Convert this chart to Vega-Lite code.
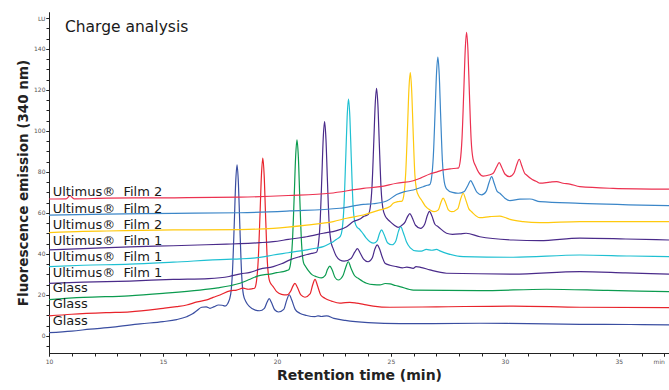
{
"$schema":"https://vega.github.io/schema/vega-lite/v6.json",
"width":620,"height":341,
"autosize":{"type":"none"},
"padding":{"left":49,"top":12,"right":0,"bottom":37},
"background":"white",
"config":{"view":{"stroke":null},"font":"DejaVu Sans"},
"resolve":{"axis":{"x":"independent","y":"independent"}},
"layer":[
{"data":{"values":[
{"k":1,"t":10,"v":1.6},{"k":1,"t":11,"v":2.4},{"k":1,"t":11.8,"v":3.3},{"k":1,"t":12.8,"v":4.3},{"k":1,"t":14,"v":5.9},{"k":1,"t":15,"v":7},{"k":1,"t":15.6,"v":8},{"k":1,"t":16.04,"v":9.4},{"k":1,"t":16.3,"v":10.8},{"k":1,"t":16.48,"v":12.3},{"k":1,"t":16.7,"v":14},{"k":1,"t":16.9,"v":14.2},{"k":1,"t":17.06,"v":13.5},{"k":1,"t":17.25,"v":14.3},{"k":1,"t":17.43,"v":15.1},{"k":1,"t":17.6,"v":15},{"k":1,"t":17.72,"v":14.6},{"k":1,"t":17.85,"v":16},{"k":1,"t":17.97,"v":20.3},{"k":1,"t":18.05,"v":31.6},{"k":1,"t":18.13,"v":55.5},{"k":1,"t":18.19,"v":74.8},{"k":1,"t":18.25,"v":83.4},{"k":1,"t":18.31,"v":74.4},{"k":1,"t":18.37,"v":54.5},{"k":1,"t":18.45,"v":30.3},{"k":1,"t":18.53,"v":20},{"k":1,"t":18.64,"v":16.7},{"k":1,"t":18.8,"v":14.3},{"k":1,"t":19.05,"v":12.6},{"k":1,"t":19.24,"v":12.3},{"k":1,"t":19.45,"v":13.5},{"k":1,"t":19.56,"v":16.3},{"k":1,"t":19.66,"v":18.2},{"k":1,"t":19.76,"v":16.3},{"k":1,"t":19.9,"v":12.8},{"k":1,"t":20.07,"v":11.7},{"k":1,"t":20.3,"v":13},{"k":1,"t":20.43,"v":17.5},{"k":1,"t":20.54,"v":20.1},{"k":1,"t":20.65,"v":17.5},{"k":1,"t":20.8,"v":13},{"k":1,"t":21,"v":11.1},{"k":1,"t":21.3,"v":10},{"k":1,"t":21.67,"v":9.4},{"k":1,"t":21.8,"v":9.8},{"k":1,"t":21.95,"v":9.5},{"k":1,"t":22.18,"v":9.8},{"k":1,"t":22.5,"v":8.6},{"k":1,"t":23,"v":7.6},{"k":1,"t":24,"v":6.5},{"k":1,"t":25.4,"v":6},{"k":1,"t":28.9,"v":6.2},{"k":1,"t":31,"v":6},{"k":1,"t":33.29,"v":5.7},{"k":1,"t":35.5,"v":5.6},{"k":1,"t":37.2,"v":5.4},
{"k":2,"t":10,"v":9.8},{"k":2,"t":11,"v":10.6},{"k":2,"t":12.5,"v":11.4},{"k":2,"t":13.55,"v":11.8},{"k":2,"t":15.01,"v":13.5},{"k":2,"t":15.6,"v":14.3},{"k":2,"t":16.04,"v":15.1},{"k":2,"t":16.5,"v":16.6},{"k":2,"t":16.92,"v":17.6},{"k":2,"t":17.2,"v":18.8},{"k":2,"t":17.5,"v":20},{"k":2,"t":17.94,"v":22},{"k":2,"t":18.23,"v":22.4},{"k":2,"t":18.52,"v":23.3},{"k":2,"t":18.74,"v":22.8},{"k":2,"t":18.9,"v":23},{"k":2,"t":19.02,"v":23.3},{"k":2,"t":19.1,"v":26.5},{"k":2,"t":19.18,"v":37.3},{"k":2,"t":19.26,"v":60.1},{"k":2,"t":19.32,"v":78.5},{"k":2,"t":19.38,"v":86.8},{"k":2,"t":19.44,"v":78.2},{"k":2,"t":19.5,"v":59.2},{"k":2,"t":19.58,"v":36.1},{"k":2,"t":19.66,"v":27.5},{"k":2,"t":19.75,"v":25.2},{"k":2,"t":19.84,"v":24},{"k":2,"t":19.99,"v":21.6},{"k":2,"t":20.2,"v":20.3},{"k":2,"t":20.43,"v":20},{"k":2,"t":20.6,"v":21.8},{"k":2,"t":20.7,"v":24.3},{"k":2,"t":20.79,"v":25.7},{"k":2,"t":20.9,"v":23.6},{"k":2,"t":21.05,"v":20},{"k":2,"t":21.23,"v":18.9},{"k":2,"t":21.45,"v":20.5},{"k":2,"t":21.57,"v":25},{"k":2,"t":21.67,"v":27.6},{"k":2,"t":21.78,"v":24.5},{"k":2,"t":21.92,"v":20},{"k":2,"t":22.1,"v":18.4},{"k":2,"t":22.4,"v":17},{"k":2,"t":22.76,"v":16},{"k":2,"t":23,"v":16.3},{"k":2,"t":23.2,"v":16.4},{"k":2,"t":23.5,"v":16},{"k":2,"t":23.8,"v":15.4},{"k":2,"t":24.22,"v":14.6},{"k":2,"t":24.96,"v":14},{"k":2,"t":27,"v":14.2},{"k":2,"t":30.36,"v":14.6},{"k":2,"t":33.29,"v":14},{"k":2,"t":37.2,"v":13.8},
{"k":3,"t":10,"v":17.7},{"k":3,"t":11.5,"v":18.8},{"k":3,"t":13.5,"v":19.6},{"k":3,"t":15,"v":20.8},{"k":3,"t":16.62,"v":22.4},{"k":3,"t":17.4,"v":23.5},{"k":3,"t":17.94,"v":24.5},{"k":3,"t":18.38,"v":25.7},{"k":3,"t":18.82,"v":27.7},{"k":3,"t":19.18,"v":29.3},{"k":3,"t":19.4,"v":29.8},{"k":3,"t":19.7,"v":30.2},{"k":3,"t":19.99,"v":30.9},{"k":3,"t":20.28,"v":31.4},{"k":3,"t":20.45,"v":32},{"k":3,"t":20.52,"v":32.3},{"k":3,"t":20.6,"v":35.5},{"k":3,"t":20.68,"v":46.2},{"k":3,"t":20.76,"v":69},{"k":3,"t":20.82,"v":87.4},{"k":3,"t":20.88,"v":95.6},{"k":3,"t":20.94,"v":87.1},{"k":3,"t":21,"v":68},{"k":3,"t":21.08,"v":45.1},{"k":3,"t":21.16,"v":36},{"k":3,"t":21.25,"v":34},{"k":3,"t":21.37,"v":32},{"k":3,"t":21.55,"v":29.8},{"k":3,"t":21.74,"v":28.9},{"k":3,"t":21.95,"v":28.3},{"k":3,"t":22.12,"v":29.5},{"k":3,"t":22.22,"v":32.5},{"k":3,"t":22.32,"v":34.1},{"k":3,"t":22.43,"v":32},{"k":3,"t":22.55,"v":28.5},{"k":3,"t":22.69,"v":27.3},{"k":3,"t":22.9,"v":29.5},{"k":3,"t":23.02,"v":33.5},{"k":3,"t":23.13,"v":36.2},{"k":3,"t":23.25,"v":33},{"k":3,"t":23.4,"v":29.5},{"k":3,"t":23.57,"v":28.1},{"k":3,"t":23.93,"v":25.7},{"k":3,"t":24.25,"v":25},{"k":3,"t":24.52,"v":24.9},{"k":3,"t":24.75,"v":25.6},{"k":3,"t":24.96,"v":25.4},{"k":3,"t":25.2,"v":24.6},{"k":3,"t":25.39,"v":24.1},{"k":3,"t":25.98,"v":22.4},{"k":3,"t":28.9,"v":22.1},{"k":3,"t":31.83,"v":22.8},{"k":3,"t":34.5,"v":22.2},{"k":3,"t":37.2,"v":21.6},
{"k":4,"t":10,"v":25.7},{"k":4,"t":11.5,"v":26.3},{"k":4,"t":13.55,"v":26.8},{"k":4,"t":15.45,"v":27.6},{"k":4,"t":17,"v":28},{"k":4,"t":17.9,"v":29},{"k":4,"t":18.4,"v":30.3},{"k":4,"t":18.82,"v":31},{"k":4,"t":19.25,"v":32.6},{"k":4,"t":19.84,"v":33.8},{"k":4,"t":20.2,"v":35.2},{"k":4,"t":20.57,"v":37.1},{"k":4,"t":21,"v":38.7},{"k":4,"t":21.52,"v":40.3},{"k":4,"t":21.73,"v":40.8},{"k":4,"t":21.81,"v":44},{"k":4,"t":21.89,"v":54.6},{"k":4,"t":21.97,"v":77.6},{"k":4,"t":22.03,"v":96.2},{"k":4,"t":22.09,"v":104.5},{"k":4,"t":22.15,"v":96.1},{"k":4,"t":22.21,"v":77.4},{"k":4,"t":22.29,"v":54.8},{"k":4,"t":22.37,"v":46},{"k":4,"t":22.47,"v":42.5},{"k":4,"t":22.6,"v":39},{"k":4,"t":22.76,"v":37.1},{"k":4,"t":22.95,"v":36.5},{"k":4,"t":23.25,"v":37.8},{"k":4,"t":23.42,"v":41},{"k":4,"t":23.53,"v":42.6},{"k":4,"t":23.65,"v":40.5},{"k":4,"t":23.8,"v":37.5},{"k":4,"t":24,"v":36.2},{"k":4,"t":24.18,"v":38},{"k":4,"t":24.3,"v":42.5},{"k":4,"t":24.4,"v":44.4},{"k":4,"t":24.5,"v":42.5},{"k":4,"t":24.62,"v":38.5},{"k":4,"t":24.74,"v":35.5},{"k":4,"t":24.96,"v":34.5},{"k":4,"t":25.25,"v":33.8},{"k":4,"t":25.5,"v":33.2},{"k":4,"t":25.7,"v":33.6},{"k":4,"t":25.98,"v":33},{"k":4,"t":26.1,"v":33.8},{"k":4,"t":26.3,"v":33.5},{"k":4,"t":26.71,"v":32.2},{"k":4,"t":27.44,"v":30.6},{"k":4,"t":30.36,"v":30.2},{"k":4,"t":33.29,"v":31.4},{"k":4,"t":35.3,"v":30.8},{"k":4,"t":37.2,"v":30.2},
{"k":5,"t":10,"v":33.8},{"k":5,"t":11.5,"v":34.5},{"k":5,"t":13.55,"v":35},{"k":5,"t":15.45,"v":36},{"k":5,"t":17.79,"v":37.4},{"k":5,"t":18.38,"v":37.6},{"k":5,"t":19.25,"v":38.3},{"k":5,"t":19.84,"v":39.5},{"k":5,"t":20.5,"v":40.6},{"k":5,"t":21.3,"v":42},{"k":5,"t":21.7,"v":42.8},{"k":5,"t":22.03,"v":43.6},{"k":5,"t":22.3,"v":45},{"k":5,"t":22.47,"v":46},{"k":5,"t":22.62,"v":47.2},{"k":5,"t":22.78,"v":48.6},{"k":5,"t":22.86,"v":51.9},{"k":5,"t":22.94,"v":63.2},{"k":5,"t":23.02,"v":87.4},{"k":5,"t":23.08,"v":106.8},{"k":5,"t":23.14,"v":115.5},{"k":5,"t":23.2,"v":106.7},{"k":5,"t":23.26,"v":87.2},{"k":5,"t":23.34,"v":63.5},{"k":5,"t":23.42,"v":55.5},{"k":5,"t":23.52,"v":53},{"k":5,"t":23.6,"v":52.3},{"k":5,"t":23.71,"v":50.9},{"k":5,"t":23.9,"v":48},{"k":5,"t":24.08,"v":46},{"k":5,"t":24.25,"v":45.3},{"k":5,"t":24.4,"v":46.5},{"k":5,"t":24.5,"v":50},{"k":5,"t":24.59,"v":51.7},{"k":5,"t":24.7,"v":49.5},{"k":5,"t":24.85,"v":45.5},{"k":5,"t":25.05,"v":44.5},{"k":5,"t":25.22,"v":46.5},{"k":5,"t":25.33,"v":51},{"k":5,"t":25.43,"v":53.3},{"k":5,"t":25.54,"v":50.5},{"k":5,"t":25.68,"v":46},{"k":5,"t":25.85,"v":43},{"k":5,"t":26.1,"v":41.5},{"k":5,"t":26.34,"v":41.4},{"k":5,"t":26.55,"v":42.2},{"k":5,"t":26.8,"v":41.8},{"k":5,"t":27,"v":42.2},{"k":5,"t":27.15,"v":41.5},{"k":5,"t":27.44,"v":40.3},{"k":5,"t":28.17,"v":38.7},{"k":5,"t":30.36,"v":38.4},{"k":5,"t":33.29,"v":39.5},{"k":5,"t":35.5,"v":39},{"k":5,"t":37.2,"v":38.7},
{"k":6,"t":10,"v":42},{"k":6,"t":11.5,"v":42.6},{"k":6,"t":13.55,"v":43.5},{"k":6,"t":15.45,"v":44},{"k":6,"t":17.79,"v":44.8},{"k":6,"t":18.38,"v":45},{"k":6,"t":19.25,"v":45.5},{"k":6,"t":19.84,"v":46},{"k":6,"t":20.5,"v":47.1},{"k":6,"t":21.3,"v":48.4},{"k":6,"t":22.03,"v":50.1},{"k":6,"t":22.62,"v":51.4},{"k":6,"t":23.06,"v":53.3},{"k":6,"t":23.35,"v":55.8},{"k":6,"t":23.64,"v":57},{"k":6,"t":23.79,"v":58.2},{"k":6,"t":23.93,"v":58.8},{"k":6,"t":24.01,"v":59.3},{"k":6,"t":24.09,"v":62.4},{"k":6,"t":24.17,"v":72.8},{"k":6,"t":24.25,"v":95},{"k":6,"t":24.31,"v":112.8},{"k":6,"t":24.37,"v":120.8},{"k":6,"t":24.43,"v":112.5},{"k":6,"t":24.49,"v":94},{"k":6,"t":24.57,"v":71.7},{"k":6,"t":24.65,"v":62.1},{"k":6,"t":24.75,"v":58.5},{"k":6,"t":24.85,"v":57},{"k":6,"t":24.96,"v":55.8},{"k":6,"t":25.15,"v":54},{"k":6,"t":25.32,"v":53},{"k":6,"t":25.48,"v":54},{"k":6,"t":25.62,"v":55.5},{"k":6,"t":25.73,"v":58.2},{"k":6,"t":25.83,"v":59.7},{"k":6,"t":25.93,"v":57.8},{"k":6,"t":26.08,"v":54},{"k":6,"t":26.3,"v":52.5},{"k":6,"t":26.48,"v":54.5},{"k":6,"t":26.59,"v":58.5},{"k":6,"t":26.69,"v":60.8},{"k":6,"t":26.8,"v":58.5},{"k":6,"t":26.93,"v":54.5},{"k":6,"t":27.07,"v":53.3},{"k":6,"t":27.44,"v":50.1},{"k":6,"t":27.7,"v":49.6},{"k":6,"t":28.03,"v":49.8},{"k":6,"t":28.3,"v":50.1},{"k":6,"t":28.9,"v":48.4},{"k":6,"t":30.36,"v":46.8},{"k":6,"t":31.54,"v":46.5},{"k":6,"t":33.29,"v":47.7},{"k":6,"t":35.3,"v":47.3},{"k":6,"t":37.2,"v":46.8},
{"k":7,"t":10,"v":50.4},{"k":7,"t":11.5,"v":51},{"k":7,"t":12.53,"v":51.2},{"k":7,"t":15.45,"v":51.7},{"k":7,"t":18.38,"v":51.9},{"k":7,"t":19.84,"v":52.5},{"k":7,"t":21.3,"v":54.1},{"k":7,"t":22.47,"v":55.8},{"k":7,"t":23.06,"v":57.4},{"k":7,"t":23.79,"v":59},{"k":7,"t":24.52,"v":61.5},{"k":7,"t":24.96,"v":63.1},{"k":7,"t":25.1,"v":64.7},{"k":7,"t":25.3,"v":65.5},{"k":7,"t":25.49,"v":65.8},{"k":7,"t":25.57,"v":68.9},{"k":7,"t":25.65,"v":79.6},{"k":7,"t":25.73,"v":102.1},{"k":7,"t":25.79,"v":120.3},{"k":7,"t":25.85,"v":128.4},{"k":7,"t":25.91,"v":120},{"k":7,"t":25.97,"v":101.4},{"k":7,"t":26.05,"v":78.8},{"k":7,"t":26.13,"v":71},{"k":7,"t":26.2,"v":68.8},{"k":7,"t":26.34,"v":66.3},{"k":7,"t":26.5,"v":63.5},{"k":7,"t":26.71,"v":61.5},{"k":7,"t":26.9,"v":60.6},{"k":7,"t":27.08,"v":61.5},{"k":7,"t":27.19,"v":65},{"k":7,"t":27.29,"v":67.2},{"k":7,"t":27.4,"v":65},{"k":7,"t":27.52,"v":61.5},{"k":7,"t":27.66,"v":60.6},{"k":7,"t":27.93,"v":62},{"k":7,"t":28.06,"v":66.8},{"k":7,"t":28.17,"v":69.6},{"k":7,"t":28.28,"v":66.5},{"k":7,"t":28.42,"v":62},{"k":7,"t":28.54,"v":60.6},{"k":7,"t":28.9,"v":57.7},{"k":7,"t":29.34,"v":58.2},{"k":7,"t":29.78,"v":58.5},{"k":7,"t":30,"v":57.8},{"k":7,"t":30.22,"v":56.9},{"k":7,"t":30.8,"v":55.8},{"k":7,"t":31.54,"v":55.3},{"k":7,"t":33.29,"v":55.8},{"k":7,"t":37.2,"v":55.8},
{"k":8,"t":10,"v":58.9},{"k":8,"t":12.53,"v":59.4},{"k":8,"t":15.5,"v":59.8},{"k":8,"t":18.38,"v":60.1},{"k":8,"t":20.57,"v":61},{"k":8,"t":22.76,"v":62.3},{"k":8,"t":23.79,"v":64.2},{"k":8,"t":24.22,"v":64.5},{"k":8,"t":24.81,"v":65.8},{"k":8,"t":25.25,"v":69},{"k":8,"t":25.6,"v":70.4},{"k":8,"t":25.98,"v":71.2},{"k":8,"t":26.42,"v":72.8},{"k":8,"t":26.6,"v":73.5},{"k":8,"t":26.7,"v":73.8},{"k":8,"t":26.78,"v":76.9},{"k":8,"t":26.86,"v":87.5},{"k":8,"t":26.94,"v":109.9},{"k":8,"t":27,"v":127.9},{"k":8,"t":27.06,"v":136},{"k":8,"t":27.12,"v":127.4},{"k":8,"t":27.18,"v":108.3},{"k":8,"t":27.26,"v":85.2},{"k":8,"t":27.34,"v":75.3},{"k":8,"t":27.44,"v":71.8},{"k":8,"t":27.7,"v":70},{"k":8,"t":27.95,"v":69.6},{"k":8,"t":28.22,"v":70.5},{"k":8,"t":28.38,"v":73.5},{"k":8,"t":28.5,"v":75.8},{"k":8,"t":28.62,"v":73.5},{"k":8,"t":28.78,"v":70},{"k":8,"t":28.98,"v":68.8},{"k":8,"t":29.18,"v":70.5},{"k":8,"t":29.31,"v":75},{"k":8,"t":29.42,"v":77.7},{"k":8,"t":29.53,"v":74.5},{"k":8,"t":29.66,"v":70.5},{"k":8,"t":29.78,"v":69.6},{"k":8,"t":30,"v":67.2},{"k":8,"t":30.22,"v":66},{"k":8,"t":30.66,"v":66.7},{"k":8,"t":31.1,"v":66.8},{"k":8,"t":31.54,"v":65.5},{"k":8,"t":33.29,"v":64.7},{"k":8,"t":37.2,"v":63.6},
{"k":9,"t":10,"v":66.8},{"k":9,"t":10.75,"v":66.9},{"k":9,"t":10.92,"v":68.4},{"k":9,"t":11.1,"v":66.9},{"k":9,"t":12.53,"v":67.2},{"k":9,"t":15.5,"v":67.4},{"k":9,"t":18.38,"v":67.7},{"k":9,"t":20.5,"v":68.5},{"k":9,"t":22.32,"v":69.6},{"k":9,"t":23.79,"v":72},{"k":9,"t":24.52,"v":72.8},{"k":9,"t":25.25,"v":74.5},{"k":9,"t":25.98,"v":75.7},{"k":9,"t":26.3,"v":77},{"k":9,"t":26.71,"v":79},{"k":9,"t":27,"v":79.9},{"k":9,"t":27.29,"v":81},{"k":9,"t":27.6,"v":81.5},{"k":9,"t":27.88,"v":81.8},{"k":9,"t":27.96,"v":81.9},{"k":9,"t":28.04,"v":85.2},{"k":9,"t":28.12,"v":96.5},{"k":9,"t":28.2,"v":120.3},{"k":9,"t":28.26,"v":139.5},{"k":9,"t":28.32,"v":148.1},{"k":9,"t":28.38,"v":139.2},{"k":9,"t":28.44,"v":119.5},{"k":9,"t":28.52,"v":95.7},{"k":9,"t":28.6,"v":86.5},{"k":9,"t":28.72,"v":82.8},{"k":9,"t":28.85,"v":79.8},{"k":9,"t":29.05,"v":78},{"k":9,"t":29.3,"v":78.5},{"k":9,"t":29.5,"v":79.5},{"k":9,"t":29.64,"v":82.5},{"k":9,"t":29.75,"v":84.5},{"k":9,"t":29.86,"v":82.3},{"k":9,"t":30,"v":79},{"k":9,"t":30.2,"v":77.7},{"k":9,"t":30.4,"v":79.5},{"k":9,"t":30.52,"v":83.5},{"k":9,"t":30.63,"v":86.2},{"k":9,"t":30.74,"v":83},{"k":9,"t":30.86,"v":79.5},{"k":9,"t":30.95,"v":78.5},{"k":9,"t":31.2,"v":76.3},{"k":9,"t":31.39,"v":75.3},{"k":9,"t":31.54,"v":74.5},{"k":9,"t":31.97,"v":75},{"k":9,"t":32.27,"v":75.3},{"k":9,"t":32.55,"v":74.5},{"k":9,"t":32.85,"v":74.1},{"k":9,"t":33.29,"v":72.8},{"k":9,"t":34.75,"v":72},{"k":9,"t":37.2,"v":71.6}
]},
"mark":{"type":"line","interpolate":"monotone","strokeWidth":1.2,"clip":true},
"encoding":{
"x":{"field":"t","type":"quantitative","scale":{"domain":[10,37.2],"nice":false,"zero":false},
"axis":{"orient":"bottom","title":"Retention time (min)","values":[10,15,20,25,30,35,37],"labelExpr":"datum.value == 37 ? 'min' : datum.label","labelAlign":{"condition":{"test":"datum.value == 37","value":"right"},"value":"center"},"labelFontSize":6,"labelColor":"#555555","labelFont":"DejaVu Sans","labelPadding":2,"labelFlush":false,"labelOverlap":false,"tickSize":3,"tickColor":"#222222","domainColor":"#222222","grid":false,"titleFontSize":14,"titleFont":"DejaVu Sans","titleFontWeight":"bold","titleColor":"#222222","titlePadding":4}},
"y":{"field":"v","type":"quantitative","scale":{"domain":[-8.3,158],"nice":false,"zero":false},
"axis":{"orient":"left","title":"Fluorescence emission (340 nm)","values":[0,20,40,60,80,100,120,140,155],"labelExpr":"datum.value == 155 ? 'LU' : datum.label","labelFontSize":6,"labelColor":"#555555","labelFont":"DejaVu Sans","labelPadding":1,"labelOverlap":false,"tickSize":3,"tickColor":"#222222","domainColor":"#222222","grid":false,"titleFontSize":13.5,"titleFont":"DejaVu Sans","titleFontWeight":"bold","titleColor":"#222222","titlePadding":3}},
"color":{"field":"k","type":"nominal","scale":{"domain":[1,2,3,4,5,6,7,8,9],"range":["#3a4ea1","#e8242c","#0b9b4f","#4a2b8a","#1fc0d2","#4a2b8a","#ffc90e","#3b86c8","#ec3150"]},"legend":null}
}},
{"data":{"values":[
{"label":"Ultimus®\u00a0 Film 2","t":10.16,"v":68.3},
{"label":"Ultimus®\u00a0 Film 2","t":10.16,"v":60.1},
{"label":"Ultimus®\u00a0 Film 2","t":10.16,"v":52.0},
{"label":"Ultimus®\u00a0 Film 1","t":10.16,"v":44.4},
{"label":"Ultimus®\u00a0 Film 1","t":10.16,"v":36.7},
{"label":"Ultimus®\u00a0 Film 1","t":10.16,"v":28.9},
{"label":"Glass","t":10.16,"v":21.3},
{"label":"Glass","t":10.16,"v":13.5},
{"label":"Glass","t":10.16,"v":5.4}
]},
"mark":{"type":"text","align":"left","baseline":"alphabetic","fontSize":13,"font":"DejaVu Sans","color":"#1a1a1a"},
"encoding":{
"x":{"field":"t","type":"quantitative","axis":{"orient":"bottom","title":null,"labels":false,"values":[10,11,12,13,14,15,16,17,18,19,20,21,22,23,24,25,26,27,28,29,30,31,32,33,34,35,36,37],"tickSize":3,"tickColor":"#222222","domainColor":"#222222","grid":false}},
"y":{"field":"v","type":"quantitative","axis":{"orient":"left","title":null,"labels":false,"values":[-5,0,5,10,15,20,25,30,35,40,45,50,55,60,65,70,75,80,85,90,95,100,105,110,115,120,125,130,135,140,145,150,155],"tickSize":3,"tickColor":"#222222","domainColor":"#222222","grid":false}},
"text":{"field":"label"}}},
{"data":{"values":[{"label":"Charge analysis","t":10.7,"v":148.4}]},
"mark":{"type":"text","align":"left","baseline":"alphabetic","fontSize":15.5,"font":"DejaVu Sans","color":"#1a1a1a"},
"encoding":{"x":{"field":"t","type":"quantitative","axis":null},"y":{"field":"v","type":"quantitative","axis":null},"text":{"field":"label"}}}
]
}
